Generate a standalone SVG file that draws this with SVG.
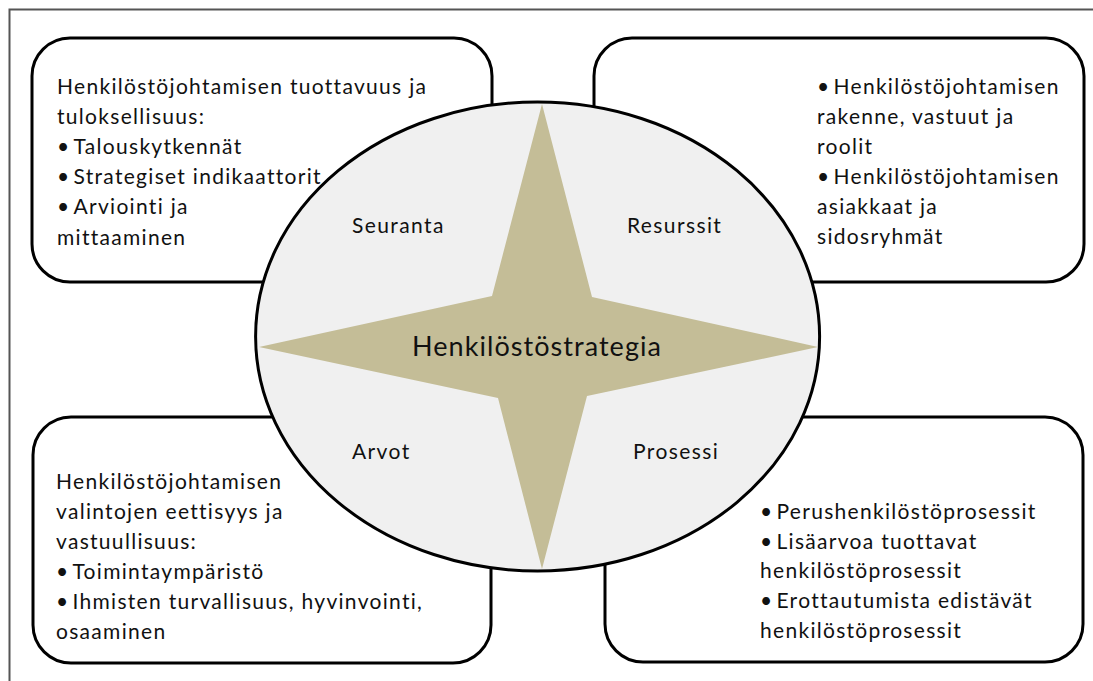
<svg xmlns="http://www.w3.org/2000/svg" width="1093" height="681" viewBox="0 0 1093 681">
  <style>
    .box { fill: #ffffff; stroke: #000000; stroke-width: 3; }
    .t { font-family: Lato, "Open Sans", sans-serif; font-size: 21px; fill: #111111; letter-spacing: 1.3px; }
    .lbl { font-family: Lato, "Open Sans", sans-serif; font-size: 21px; fill: #111111; letter-spacing: 1.4px; }
    .core { font-family: Lato, "Open Sans", sans-serif; font-size: 27px; fill: #111111; letter-spacing: 1.05px; }
  </style>

  <rect x="0" y="0" width="1093" height="681" fill="#ffffff"/>
  <!-- page frame -->
  <rect x="9.5" y="9.5" width="1100" height="700" fill="none" stroke="#555555" stroke-width="2"/>

  <!-- four corner boxes -->
  <g id="box-seuranta">
    <rect class="box" x="32" y="38" width="460" height="244" rx="38" ry="38"/>
    <text class="t" x="57" y="94">Henkilöstöjohtamisen tuottavuus ja</text>
    <text class="t" x="57" y="124">tuloksellisuus:</text>
    <text class="t" x="57" y="154">•<tspan dx="3">Talouskytkennät</tspan></text>
    <text class="t" x="57" y="184">•<tspan dx="3">Strategiset indikaattorit</tspan></text>
    <text class="t" x="57" y="214">•<tspan dx="3">Arviointi ja</tspan></text>
    <text class="t" x="57" y="245">mittaaminen</text>
  </g>

  <g id="box-resurssit">
    <rect class="box" x="594" y="38" width="490" height="244" rx="38" ry="38"/>
    <text class="t" x="817" y="94">•<tspan dx="3">Henkilöstöjohtamisen</tspan></text>
    <text class="t" x="817" y="124">rakenne, vastuut ja</text>
    <text class="t" x="817" y="154">roolit</text>
    <text class="t" x="817" y="184">•<tspan dx="3">Henkilöstöjohtamisen</tspan></text>
    <text class="t" x="817" y="214">asiakkaat ja</text>
    <text class="t" x="817" y="244">sidosryhmät</text>
  </g>

  <g id="box-arvot">
    <rect class="box" x="33" y="417" width="458" height="246" rx="38" ry="38"/>
    <text class="t" x="56" y="489">Henkilöstöjohtamisen</text>
    <text class="t" x="56" y="519">valintojen eettisyys ja</text>
    <text class="t" x="56" y="549">vastuullisuus:</text>
    <text class="t" x="56" y="579">•<tspan dx="3">Toimintaympäristö</tspan></text>
    <text class="t" x="56" y="609">•<tspan dx="3">Ihmisten turvallisuus, hyvinvointi,</tspan></text>
    <text class="t" x="56" y="639">osaaminen</text>
  </g>

  <g id="box-prosessi">
    <rect class="box" x="605" y="417" width="478" height="245" rx="38" ry="38"/>
    <text class="t" x="760" y="519">•<tspan dx="3">Perushenkilöstöprosessit</tspan></text>
    <text class="t" x="760" y="549">•<tspan dx="3">Lisäarvoa tuottavat</tspan></text>
    <text class="t" x="760" y="578">henkilöstöprosessit</text>
    <text class="t" x="760" y="608">•<tspan dx="3">Erottautumista edistävät</tspan></text>
    <text class="t" x="760" y="638">henkilöstöprosessit</text>
  </g>

  <!-- central ellipse with four-point star -->
  <g id="strategia">
    <ellipse cx="537.6" cy="336.5" rx="282" ry="234.5" fill="#f0f0f0" stroke="#000000" stroke-width="3"/>
    <polygon points="542,104 592,297 818,347 587,396 542,569 498,398 259,347 492,296" fill="#c4bd97"/>
    <text class="lbl" x="352" y="233">Seuranta</text>
    <text class="lbl" x="627" y="233">Resurssit</text>
    <text class="lbl" x="352" y="459">Arvot</text>
    <text class="lbl" x="633" y="459">Prosessi</text>
    <text class="core" x="537" y="356" text-anchor="middle">Henkilöstöstrategia</text>
  </g>

  <!-- no connectors in this figure -->
  <g id="connectors"/>
</svg>
